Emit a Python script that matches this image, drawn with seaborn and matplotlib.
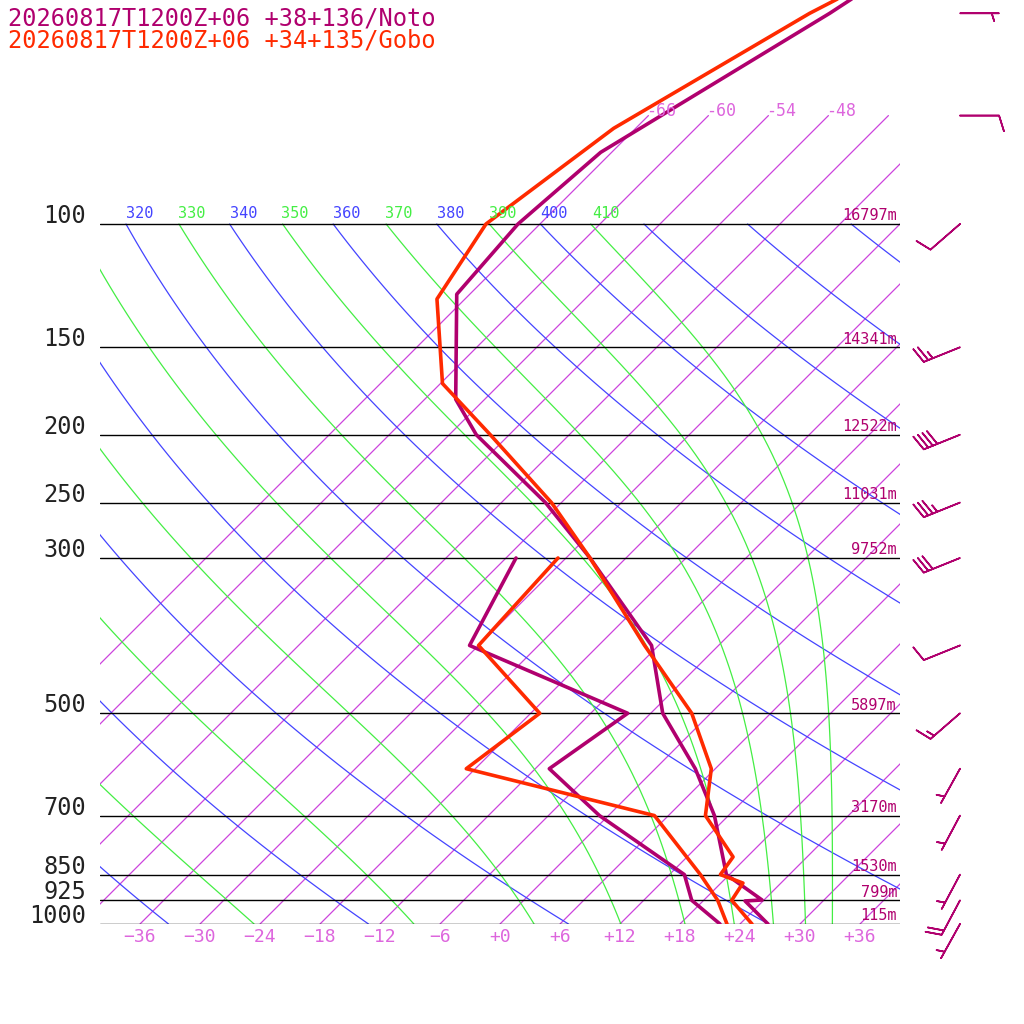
import numpy as np
import matplotlib
matplotlib.use("Agg")
import matplotlib.pyplot as plt
import seaborn as sns

sns.set_style("white")
plt.rcParams["font.family"] = ["DejaVu Sans Mono", "DejaVu Sans"]

# ── Sounding data ─────────────────────────────────────────────────────────────
noto_t_p = [1000, 927, 924, 850, 700, 600, 500, 400, 300, 250, 200, 178, 126, 100, 79, 50, 45]
noto_t   = [26.8, 22.2, 23.8, 17.7, 10.6, 4.0, -4.8, -12.7, -27.6, -37.6, -51.3, -56.9, -67.3, -68.2, -67.1, -58.1, -56.4]
noto_d_p = [1000, 925, 850, 700, 600, 500, 400, 300]
noto_d   = [22.0, 16.8, 13.5, -0.9, -10.6, -8.3, -30.9, -35.0]

gobo_t_p = [1000, 925, 874, 850, 802, 700, 600, 500, 400, 300, 250, 200, 169, 128, 100, 73, 50, 45]
gobo_t   = [25.2, 20.8, 20.2, 17.1, 16.6, 9.7, 5.6, -1.9, -13.4, -27.6, -37.0, -49.9, -59.8, -68.8, -71.4, -68.2, -60.1, -57.1]
gobo_d_p = [1000, 925, 850, 700, 600, 500, 400, 300]
gobo_d   = [22.7, 19.4, 15.1, 4.6, -18.9, -17.1, -30.0, -30.8]

levels  = [1000, 925, 850, 700, 500, 300, 250, 200, 150, 100]
heights = ["115m", "799m", "1530m", "3170m", "5897m", "9752m", "11031m", "12522m", "14341m", "16797m"]

wind_p   = [1000, 925, 850, 700, 600, 500, 400, 300, 250, 200, 150, 100, 70, 50]
wind_dir = [209, 208, 208, 208, 209, 229, 248, 248, 248, 248, 248, 229, 90, 90]
wind_spd = [5, 20, 5, 5, 5, 15, 10, 30, 35, 40, 25, 10, 10, 5]

NOTO = "#B0006E"
GOBO = "#FF2A00"
SKEW = 70.0  # degrees of x shift per decade of pressure
P_TOP = 1000 / 10 ** (924 / 700)


def skx(t, p):
    return np.asarray(t) + SKEW * np.log10(1000.0 / np.asarray(p))


def theta_e_sat(tk, p):
    tc = tk - 273.15
    es = 6.112 * np.exp(17.67 * tc / (tc + 243.5))
    r = 0.622 * es / (p - es)
    return tk * (1000.0 / p) ** (0.2854 * (1 - 0.28 * r)) * np.exp((3376.0 / tk - 2.54) * r * (1 + 0.81 * r))


def moist_t(the, p):
    lo = np.full_like(p, 150.0)
    hi = np.full_like(p, 320.0)
    for _ in range(60):
        mid = 0.5 * (lo + hi)
        big = theta_e_sat(mid, p) > the
        hi = np.where(big, mid, hi)
        lo = np.where(big, lo, mid)
    return 0.5 * (lo + hi) - 273.15


def label(x, p, s, dx=0, dy=0, **kw):
    ax.annotate(s, (x, p), xytext=(dx, dy), textcoords="offset pixels",
                annotation_clip=False, **kw)


fig = plt.figure(figsize=(10.24, 10.24), dpi=100)
ax = fig.add_axes([100 / 1024, 100 / 1024, 800 / 1024, 924 / 1024])
ax.set_yscale("log")
ax.set_ylim(1000, P_TOP)
ax.set_xlim(-40, 40)
ax.axis("off")

# isotherms
p_iso = np.array([1000, 70])
for t in range(-66, 61, 6):
    ax.plot(skx([t, t], p_iso), p_iso, color="#CC44DD", lw=0.9)
    if t in (-66, -60, -54, -48):
        label(skx(t, 70), 70, f"{t}", dx=-2, dy=5, color="#DD66DD", fontsize=12,
              ha="left", va="center")

# dry adiabats
p_ad = np.geomspace(1000, 100, 80)
for th in range(240, 620, 20):
    t = th * (p_ad / 1000) ** 0.2857 - 273.15
    ax.plot(skx(t, p_ad), p_ad, color="#4444FF", lw=0.9)

# moist adiabats
for the in range(250, 420, 20):
    t = moist_t(the, p_ad)
    ax.plot(skx(t, p_ad), p_ad, color="#44EE44", lw=0.9)

# adiabat labels at 100 hPa
for th in range(310, 420, 10):
    t = th * 0.1 ** 0.2857 - 273.15
    col = "#4444FF" if th % 20 == 0 else "#44EE44"
    txt = ax.annotate(str(th), (skx(t, 100), 100), xytext=(0, 11),
                      textcoords="offset pixels", color=col, fontsize=11,
                      ha="left", va="center")
    txt.set_clip_on(True)
    txt.set_clip_box(ax.bbox)

# pressure levels
for p, h in zip(levels, heights):
    ax.plot([-40, 40], [p, p], color="black", lw=1)
    label(-40, p, str(p), dx=-14, dy=8, fontsize=17, ha="right", va="center",
          color="#222222")
    label(40, p, h, dx=-3, dy=8, fontsize=11, ha="right", va="center", color=NOTO)

# temperature tick labels
for t in range(-36, 37, 6):
    lab = f"+{t}" if t >= 0 else f"\u2212{t * -1}"
    label(t, 1000, lab, dy=-13, fontsize=13, ha="center", va="center", color="#DD66DD")

# soundings
ax.plot(skx(noto_t, noto_t_p), noto_t_p, color=NOTO, lw=2.6)
ax.plot(skx(noto_d, noto_d_p), noto_d_p, color=NOTO, lw=2.6)
ax.plot(skx(gobo_t, gobo_t_p), gobo_t_p, color=GOBO, lw=2.6)
ax.plot(skx(gobo_d, gobo_d_p), gobo_d_p, color=GOBO, lw=2.6)

# wind barbs
d = np.radians(wind_dir)
u = -np.array(wind_spd) * np.sin(d)
v = -np.array(wind_spd) * np.cos(d)
ax.barbs(np.full(len(wind_p), 46.0), wind_p, u, v, color=NOTO, length=7.5,
         linewidth=1.2, clip_on=False, sizes={"emptybarb": 0})

fig.text(8 / 1024, 1 - 18 / 1024, "20260817T1200Z+06 +38+136/Noto", color=NOTO,
         fontsize=17, va="center")
fig.text(8 / 1024, 1 - 41 / 1024, "20260817T1200Z+06 +34+135/Gobo", color=GOBO,
         fontsize=17, va="center")

fig.savefig("out.png", dpi=100, facecolor="white")
